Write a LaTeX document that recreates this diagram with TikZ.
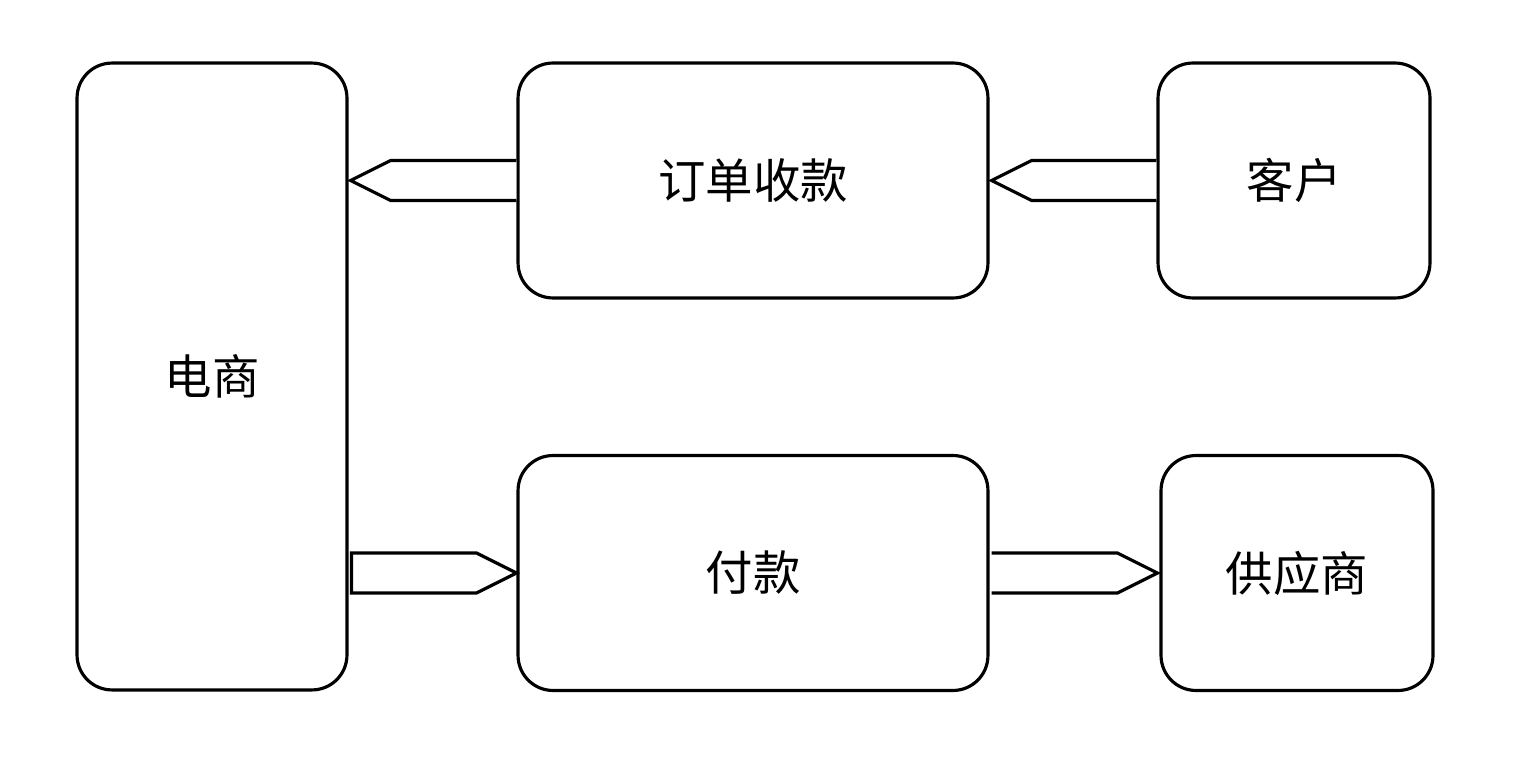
\documentclass[tikz,border=0pt]{standalone}
\usepackage{fontspec}
\newfontfamily\cjk{Noto Sans CJK SC}
\usetikzlibrary{calc}
\tikzset{
  box/.style={draw,line width=1.8pt,rounded corners=0.7cm,font=\cjk\fontsize{27}{32}\selectfont,inner sep=0pt},
  blockarrow/.style={draw,line width=1.8pt,fill=white,line join=miter}
}
\begin{document}
\begin{tikzpicture}[x=0.02cm,y=-0.02cm]
  \useasboundingbox (0,0) rectangle (1514,766);
  \node[box,minimum width=5.4cm,minimum height=12.54cm] (ecom) at (212,376.5) {电商};
  \node[box,minimum width=9.4cm,minimum height=4.7cm] (order) at (753,180.5) {订单收款};
  \node[box,minimum width=5.44cm,minimum height=4.7cm] (cust) at (1294,180.5) {客户};
  \node[box,minimum width=9.4cm,minimum height=4.7cm] (pay) at (753,573) {付款};
  \node[box,minimum width=5.44cm,minimum height=4.7cm] (supp) at (1297,573) {供应商};
  % arrows to the left
  \draw[blockarrow] ($(order.west)+(0,-20)$) -- ($(ecom.east|-order.west)+(42,-20)$)
    -- ($(ecom.east|-order.west)+(2,0)$) -- ($(ecom.east|-order.west)+(42,20)$) -- ($(order.west)+(0,20)$);
  \draw[blockarrow] ($(cust.west)+(0,-20)$) -- ($(order.east|-cust.west)+(42,-20)$)
    -- ($(order.east|-cust.west)+(2,0)$) -- ($(order.east|-cust.west)+(42,20)$) -- ($(cust.west)+(0,20)$);
  % arrows to the right
  \draw[blockarrow] ($(ecom.east|-pay.west)+(3,-20)$) -- ($(pay.west)+(-40,-20)$)
    -- ($(pay.west)+(0,0)$) -- ($(pay.west)+(-40,20)$) -- ($(ecom.east|-pay.west)+(3,20)$) -- cycle;
  \draw[blockarrow] ($(pay.east)+(2,-20)$) -- ($(supp.west)+(-42,-20)$)
    -- ($(supp.west)+(-2,0)$) -- ($(supp.west)+(-42,20)$) -- ($(pay.east)+(2,20)$);
\end{tikzpicture}
\end{document}
